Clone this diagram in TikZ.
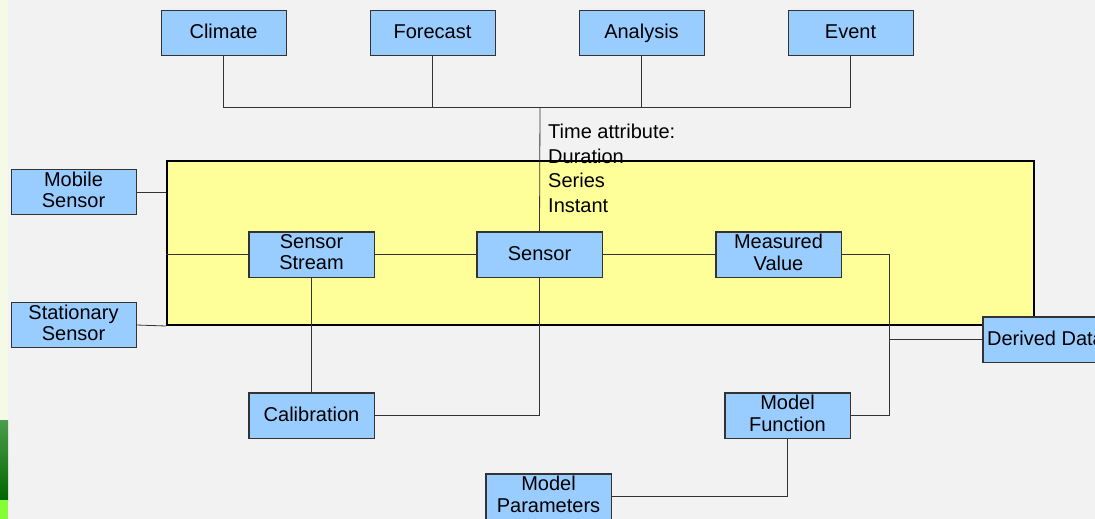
\documentclass[tikz,border=0pt]{standalone}
\usepackage{fontspec}
\setmainfont{Liberation Sans}
\usetikzlibrary{%
    calc,
    positioning
}
\definecolor{slidebg}{RGB}{242,242,242}
\definecolor{boxblue}{RGB}{153,204,255}
\definecolor{panelyellow}{RGB}{255,255,153}
\definecolor{edgegray}{RGB}{51,51,51}
\definecolor{stripgreen}{RGB}{245,250,232}
\newcommand\boxstrut{\rule[-4.5pt]{0pt}{20.5pt}}
\tikzset{entity/.style = {draw=edgegray, fill=boxblue, line width=.8pt,
    minimum width=125pt, minimum height=45pt, inner sep=0pt, align=center,
    font=\fontsize{20}{21.5}\selectfont,
    execute at begin node=\boxstrut, execute at end node=\boxstrut}}
\tikzset{link/.style = {draw=edgegray, line width=.8pt}}
\tikzset{panel/.style = {draw=black, fill=panelyellow, line width=2pt, inner sep=0pt}}

\begin{document}
\begin{tikzpicture}[x=1pt, y=-1pt]
    \clip (0,0) rectangle (1095,519);
    \fill[slidebg] (0,0) rectangle (1095,519);
    % slide decoration at the left edge
    \fill[stripgreen] (0,0) rectangle (8,420);
    \shade[top color=green!45!black!70, bottom color=green!40!black] (0,420) rectangle (8,500);
    \fill[green!60!yellow!80] (0,500) rectangle (8,519);

    \node (core) [panel, minimum width=867pt, minimum height=164pt] at (600.5,243) {};

    \node (clim) [entity] at (223.5,32.5) {Climate};
    \node (fcst) [entity] at (432.5,32.5) {Forecast};
    \node (anly) [entity] at (641.5,32.5) {Analysis};
    \node (evnt) [entity] at (850.5,32.5) {Event};

    \node (mob)  [entity] at (73.5,192) {Mobile\\Sensor};
    \node (stat) [entity] at (73.5,325) {Stationary\\Sensor};

    \node (strm) [entity] at (311.5,254.5) {Sensor\\Stream};
    \node (sens) [entity] at (539.5,254.5) {Sensor};
    \node (meas) [entity] at (778.5,254.5) {Measured\\Value};

    \node (calib) [entity] at (311.5,415.5) {Calibration};
    \node (mfun)  [entity] at (787.5,415.5) {Model\\Function};
    \node (mpar)  [entity] at (548.5,496.5) {Model\\Parameters};
    \node (deriv) [entity] at (1045.5,339.5) {Derived Data};

    \node (tattr) [anchor=north west, inner sep=0pt, align=left,
        font=\fontsize{20}{24.5}\selectfont] at (548,124)
        {Time attribute:\\Duration\\Series\\Instant};

    \coordinate (hub) at (540,107);
    \coordinate (tap) at (889,339.5);

    \foreach \Source in {clim, fcst, anly, evnt}
        \draw[link] (\Source.south) |- (hub);
    \draw[link] (hub) -- (sens.north);

    \draw[link] (mob.east) -- (mob.east -| core.west);
    \draw[link] (stat.east) -- (core.south west);
    \draw[link] (core.west |- strm.west) -- (strm.west);

    \foreach \Source/\Target in {strm/sens, sens/meas}
        \draw[link] (\Source.east) -- (\Target.west);

    \draw[link] (strm.south) -- (calib.north);
    \draw[link] (sens.south) |- (calib.east);
    \draw[link] (meas.east) -| (tap) |- (mfun.east);
    \draw[link] (tap) -- (deriv.west);
    \draw[link] (mfun.south) |- (mpar.east);

    % redraw boxes above the connectors
    \foreach \Box in {strm, sens, meas, calib, mfun, mpar, deriv}
        \draw[edgegray, line width=.8pt] (\Box.south west) rectangle (\Box.north east);
\end{tikzpicture}
\end{document}
